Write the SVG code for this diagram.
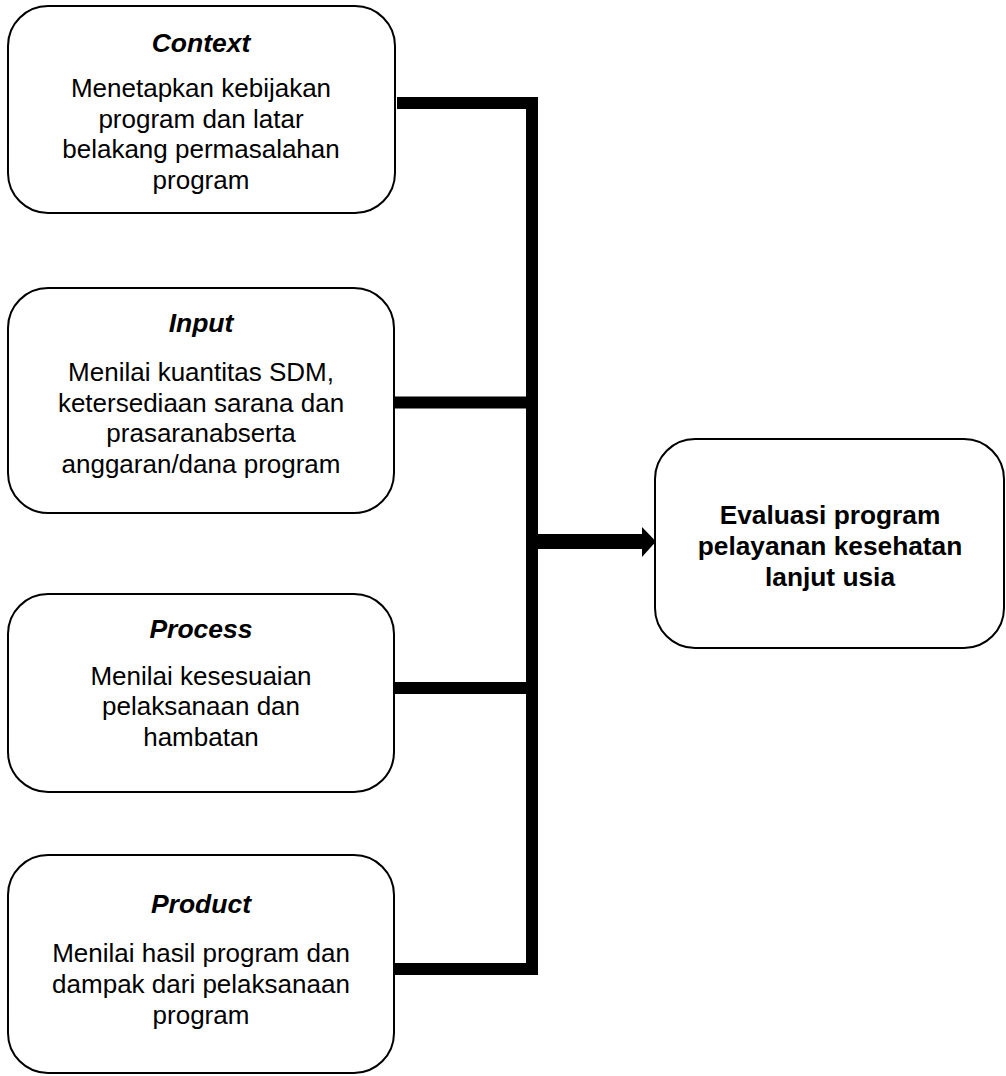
<svg xmlns="http://www.w3.org/2000/svg" width="1006" height="1076" viewBox="0 0 1006 1076">
<style>
.box{fill:#fff;stroke:#000;stroke-width:2}
.t{font-family:"Liberation Sans",Arial,sans-serif;font-size:26.5px;font-weight:bold;font-style:italic;text-anchor:middle;fill:#000}
.b{font-family:"Liberation Sans",Arial,sans-serif;font-size:26px;text-anchor:middle;fill:#000}
.e{font-family:"Liberation Sans",Arial,sans-serif;font-size:26.3px;font-weight:bold;text-anchor:middle;fill:#000}
.c{stroke:#000;stroke-width:12;fill:none}
</style>
<rect width="1006" height="1076" fill="#fff"/>
<g id="connectors">
<line class="c" x1="397" y1="103" x2="538" y2="103"/>
<line class="c" x1="394" y1="402.5" x2="538" y2="402.5"/>
<line class="c" x1="394" y1="688" x2="538" y2="688"/>
<line class="c" x1="394" y1="969" x2="538" y2="969"/>
<line class="c" x1="532" y1="97" x2="532" y2="975"/>
<line stroke="#000" stroke-width="15" x1="536" y1="541.5" x2="643" y2="541.5"/>
<polygon points="642,527 656,541.5 642,557" fill="#000"/>
</g>
<g id="context">
<rect class="box" x="8" y="6" width="387" height="207" rx="40" ry="40"/>
<text class="t" x="201" y="52">Context</text>
<text class="b" x="201" y="97">Menetapkan kebijakan</text>
<text class="b" x="201" y="128">program dan latar</text>
<text class="b" x="201" y="158">belakang permasalahan</text>
<text class="b" x="201" y="189">program</text>
</g>
<g id="input">
<rect class="box" x="8" y="288" width="386" height="225" rx="40" ry="40"/>
<text class="t" x="201" y="332">Input</text>
<text class="b" x="201" y="381">Menilai kuantitas SDM,</text>
<text class="b" x="201" y="412">ketersediaan sarana dan</text>
<text class="b" x="201" y="442">prasaranabserta</text>
<text class="b" x="201" y="473">anggaran/dana program</text>
</g>
<g id="process">
<rect class="box" x="8" y="594" width="386" height="198" rx="40" ry="40"/>
<text class="t" x="201" y="638">Process</text>
<text class="b" x="201" y="685">Menilai kesesuaian</text>
<text class="b" x="201" y="715">pelaksanaan dan</text>
<text class="b" x="201" y="746">hambatan</text>
</g>
<g id="product">
<rect class="box" x="8" y="855" width="386" height="218" rx="40" ry="40"/>
<text class="t" x="201" y="913">Product</text>
<text class="b" x="201" y="962">Menilai hasil program dan</text>
<text class="b" x="201" y="993">dampak dari pelaksanaan</text>
<text class="b" x="201" y="1024">program</text>
</g>
<g id="evaluasi">
<rect class="box" x="655" y="439" width="349" height="209" rx="40" ry="40"/>
<text class="e" x="830" y="524">Evaluasi program</text>
<text class="e" x="830" y="555">pelayanan kesehatan</text>
<text class="e" x="830" y="586">lanjut usia</text>
</g>
</svg>
